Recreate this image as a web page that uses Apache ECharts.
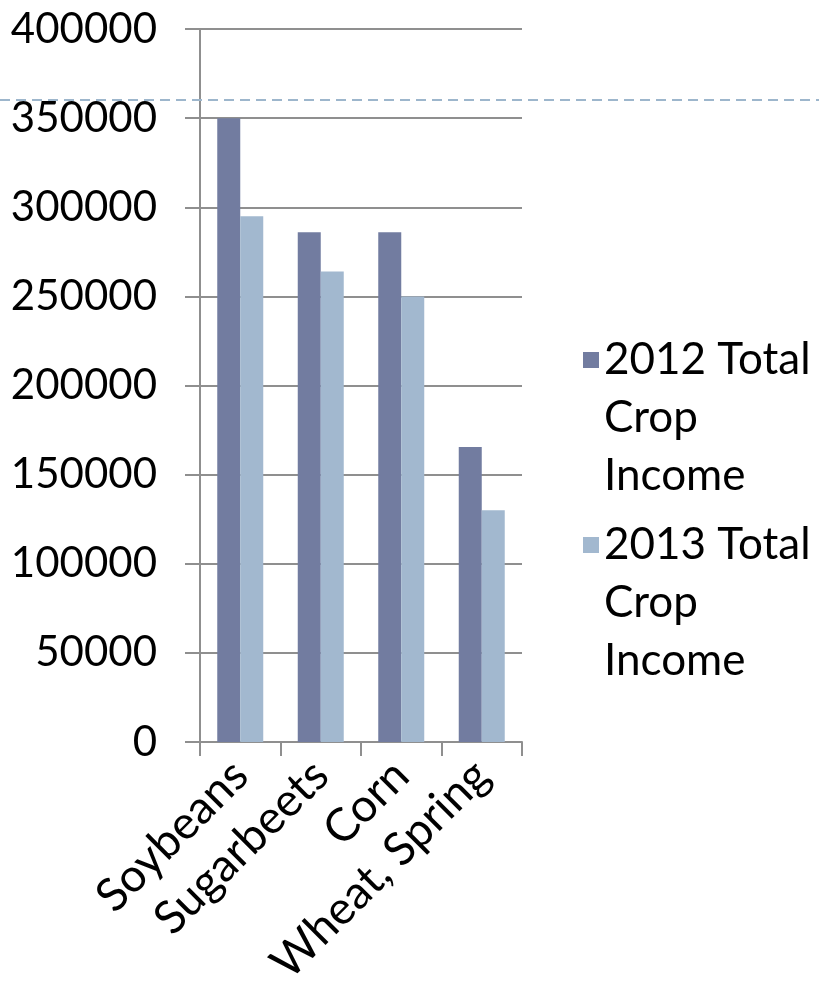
<!DOCTYPE html>
<html>
<head>
<meta charset="utf-8">
<script src="https://cdn.jsdelivr.net/npm/echarts@6/dist/echarts.min.js"></script>
<style>
  html, body { margin: 0; padding: 0; background: #ffffff; }
  #chart { width: 819px; height: 992px; }
</style>
</head>
<body>
<div id="chart"></div>
<script>
// Crop income by commodity, two seasons
const categories = ['Soybeans', 'Sugarbeets', 'Corn', 'Wheat, Spring'];
const income2012 = [350000, 286000, 286000, 165500];
const income2013 = [295000, 264000, 250000, 130000];
const seriesNames = ['2012 Total Crop Income', '2013 Total Crop Income'];
const yTicks = { min: 0, max: 400000, step: 50000 };

const FONT = 'Lato, "Open Sans", sans-serif';
const COLOR_2012 = '#727ca0';
const COLOR_2013 = '#a2b8cf';
const GRID_COLOR = '#8f8f8f';

const chart = echarts.init(document.getElementById('chart'), null, { renderer: 'canvas' });

// "2012 Total Crop Income" -> "2012 Total / Crop / Income"; two blank lines in
// front keep the first line level with the centred swatch
function wrapName(name) {
  const parts = name.split(' ');
  return '\n\n' + parts[0] + ' ' + parts[1] + '\n' + parts.slice(2).join('\n');
}

function legendFor(name, centerY) {
  return {
    data: [name],
    left: 583,
    top: centerY - 2.5 * 58,
    padding: 0,
    orient: 'vertical',
    icon: 'rect',
    itemWidth: 16,
    itemHeight: 16,
    selectedMode: false,
    formatter: wrapName,
    textStyle: {
      fontFamily: FONT,
      fontSize: 44,
      color: '#000000',
      lineHeight: 58
    }
  };
}

chart.setOption({
  animation: false,
  backgroundColor: '#ffffff',
  textStyle: { fontFamily: FONT },
  grid: { left: 200, right: 297, top: 29, bottom: 250, containLabel: false },
  legend: [legendFor(seriesNames[0], 360), legendFor(seriesNames[1], 545)],
  xAxis: {
    type: 'category',
    data: categories,
    axisLine: { show: true, lineStyle: { color: GRID_COLOR, width: 2 } },
    axisTick: { show: true, length: 14, alignWithLabel: false, lineStyle: { color: GRID_COLOR, width: 2 } },
    axisLabel: {
      rotate: 45,
      interval: 0,
      margin: 26,
      fontFamily: FONT,
      fontSize: 46,
      color: '#000000'
    },
    splitLine: { show: false }
  },
  yAxis: {
    type: 'value',
    min: yTicks.min,
    max: yTicks.max,
    interval: yTicks.step,
    axisLine: { show: true, lineStyle: { color: GRID_COLOR, width: 2 } },
    axisTick: { show: true, length: 15, lineStyle: { color: GRID_COLOR, width: 2 } },
    axisLabel: {
      margin: 43,
      fontFamily: FONT,
      fontSize: 42,
      color: '#000000',
      formatter: function (v) { return String(v); }
    },
    splitLine: { show: true, lineStyle: { color: GRID_COLOR, width: 2 } }
  },
  series: [
    {
      name: seriesNames[0],
      type: 'bar',
      data: income2012,
      barWidth: 23,
      barGap: '0%',
      itemStyle: { color: COLOR_2012 }
    },
    {
      name: seriesNames[1],
      type: 'bar',
      data: income2013,
      barWidth: 23,
      barGap: '0%',
      itemStyle: { color: COLOR_2013 }
    }
  ],
  graphic: [
    {
      // dashed rule across the slide
      type: 'line',
      silent: true,
      shape: { x1: 0, y1: 100, x2: 819, y2: 100 },
      style: { stroke: '#9db6cc', lineWidth: 2, lineDash: [10, 6] },
      z: 10
    }
  ]
});
</script>
</body>
</html>
